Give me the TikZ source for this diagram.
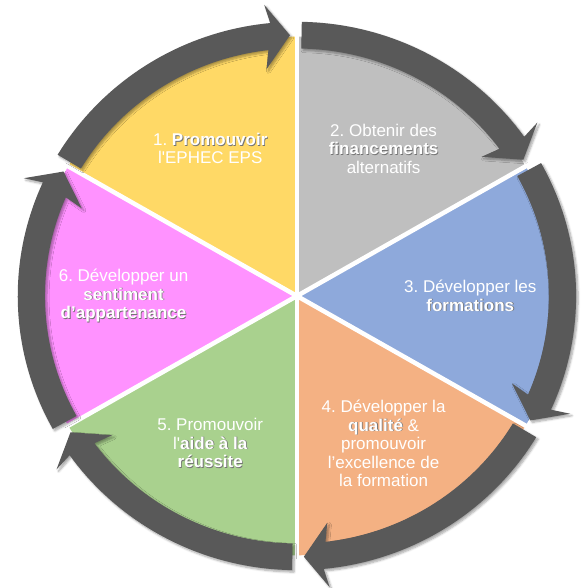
\documentclass[tikz,border=0pt]{standalone}
\usepackage{fontspec}
\setmainfont{Liberation Sans}
\usepackage{xcolor}
\usetikzlibrary{shadows.blur}
\frenchspacing

\definecolor{secyellow}{RGB}{255,217,102}
\definecolor{secgray}{RGB}{191,191,191}
\definecolor{secblue}{RGB}{142,169,219}
\definecolor{secorange}{RGB}{244,177,131}
\definecolor{secgreen}{RGB}{169,209,142}
\definecolor{secpink}{RGB}{255,146,255}
\definecolor{ringgray}{RGB}{89,89,89}

% bold word with a dark shadow behind it
\newcommand{\bw}[1]{\leavevmode\rlap{\kern0.8pt\raisebox{-0.8pt}{\color{black!55}\bfseries #1}}{\bfseries #1}}

\tikzset{
  steptext/.style={text=white, align=center, inner sep=0pt,
    font=\fontsize{17}{18.5}\selectfont},
  ringband/.style={fill=ringgray,
    blur shadow={shadow xshift=2pt, shadow yshift=-2pt, shadow blur steps=6, shadow opacity=35}},
}

\begin{document}
\begin{tikzpicture}[x=1.008pt, y=0.99pt]
\useasboundingbox (-294.6,-295) rectangle (286.7,299);
\def\Rs{262}
\def\Ri{250}
\def\Ro{277}
\def\Rm{263.5}

  % coloured sectors
  \foreach \a/\col [evaluate=\a as \b using \a-60] in {150/secyellow, 90/secgray, 30/secblue, -30/secorange, -90/secgreen, -150/secpink}
    \fill[\col] (0,0) -- plot[domain=\a:\b, variable=\t, samples=30] (\t:\Rs) -- cycle;

  % white gaps
  \foreach \g in {30,90,...,330}
    \draw[white, line width=4.5pt] (0,0) -- (\g:266);

  % arrow bands, clockwise
  \foreach \s/\e in {149/91.5, 89/31.5, 29/-28.5, -31/-88.5, -91/-148.5, -151/-208.5} {
    \pgfmathsetmacro{\jo}{\e+4}
    \pgfmathsetmacro{\bo}{\e+4.8}
    \pgfmathsetmacro{\bi}{\e+6}
    \pgfmathsetmacro{\ji}{\e+5}
    \fill[ringband] plot[domain=\s:\jo, variable=\t, samples=40] (\t:\Ro)
      -- (\bo:296) -- (\e:\Rm) -- (\bi:231) -- (\ji:\Ri)
      -- plot[domain=\ji:\s, variable=\t, samples=40] (\t:\Ri) -- cycle;
  }

  % labels
  \foreach \m/\txt [count=\i] in {
      120/{1. \bw{Promouvoir}\\l\textquotesingle EPHEC EPS},
      60/{2. Obtenir des\\\bw{financements}\\alternatifs},
      0/{3. Développer les\\\bw{formations}},
      -60/{4. Développer la\\\bw{qualité} \&\\promouvoir\\l’excellence de\\la formation},
      -120/{5. Promouvoir\\l\textquotesingle\bw{aide à la}\\\bw{réussite}},
      180/{6. Développer un\\\bw{sentiment}\\\bw{d’appartenance}}}
    \node[steptext] (step\i) at (\m:172) {\txt};

\end{tikzpicture}
\end{document}
